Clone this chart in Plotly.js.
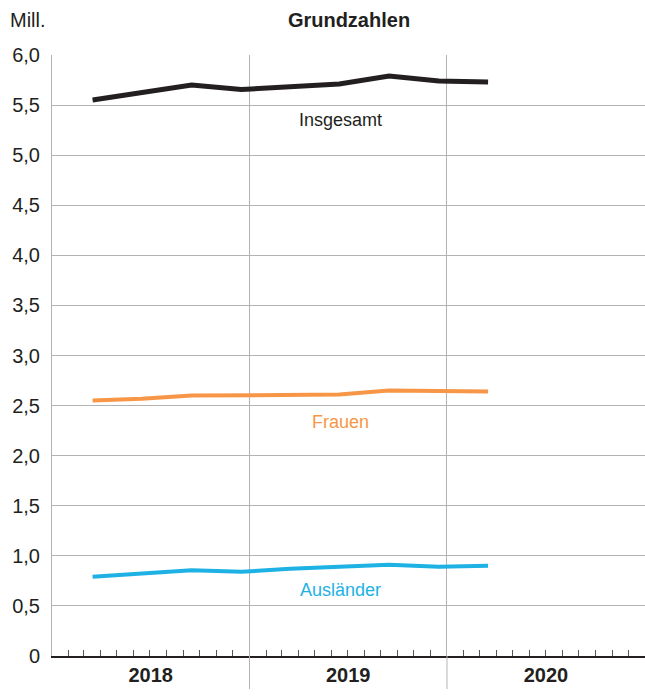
<!DOCTYPE html>
<html>
<head>
<meta charset="utf-8">
<script src="https://cdn.plot.ly/plotly-3.0.1.min.js"></script>
<style>html,body{margin:0;padding:0;background:#fff;}#chart{width:645px;height:696px;}</style>
</head>
<body>
<div id="chart"></div>
<script>
// Quarterly observation dates (middle of last month of quarter)
const dates = ['2018-03-17','2018-06-16','2018-09-16','2018-12-17','2019-03-17','2019-06-16','2019-09-16','2019-12-17','2020-03-17'];
const insgesamt = [5.55, 5.62, 5.70, 5.655, 5.68, 5.71, 5.79, 5.74, 5.73];
const frauen = [2.55, 2.567, 2.60, 2.60, 2.605, 2.61, 2.65, 2.64, 2.64];
const auslaender = [0.79, 0.82, 0.855, 0.84, 0.87, 0.89, 0.91, 0.89, 0.90];

const seriesNames = ['Insgesamt', 'Frauen', 'Ausländer'];
const seriesColors = ['#231f20', '#f79646', '#1db1e4'];
const labelY = [5.35, 2.34, 0.66];
const labelX = '2019-06-18';

const yTickVals = [0, 0.5, 1, 1.5, 2, 2.5, 3, 3.5, 4, 4.5, 5, 5.5, 6];
const yTickText = ['0', '0,5', '1,0', '1,5', '2,0', '2,5', '3,0', '3,5', '4,0', '4,5', '5,0', '5,5', '6,0'];
const yearBounds = ['2019-01-01', '2020-01-01'];

const FONT = '"Liberation Sans", Arial, Helvetica, sans-serif';
const values = [insgesamt, frauen, auslaender];
const widths = [5, 4, 4];

const traces = values.map((v, i) => ({
  x: dates, y: v, type: 'scatter', mode: 'lines', name: seriesNames[i],
  line: {color: seriesColors[i], width: widths[i]}, hoverinfo: 'skip'
}));

const annotations = seriesNames.map((n, i) => ({
  x: labelX, y: labelY[i], xref: 'x', yref: 'y', text: n, showarrow: false,
  font: {family: FONT, size: 18, color: seriesColors[i]}, xanchor: 'center', yanchor: 'middle'
}));
annotations.push({
  x: -44/593, y: 1 + (55-19.5)/601, xref: 'paper', yref: 'paper', text: 'Mill.', showarrow: false,
  xanchor: 'left', yanchor: 'middle', font: {family: FONT, size: 20, color: '#231f20'}
});

const shapes = yearBounds.map(d => ({
  type: 'line', xref: 'x', yref: 'paper', x0: d, x1: d, y0: -33/601, y1: 0,
  line: {color: '#b3b3b3', width: 1}
}));

const layout = {
  width: 645, height: 696,
  margin: {l: 52, r: 0, t: 55, b: 40},
  paper_bgcolor: '#fff', plot_bgcolor: '#fff',
  showlegend: false,
  font: {family: FONT, color: '#231f20'},
  title: {text: '<b>Grundzahlen</b>', xref: 'container', yref: 'container', x: 349/645, y: 1 - 19.5/696,
    xanchor: 'center', yanchor: 'middle', font: {family: FONT, size: 20, color: '#231f20'}},
  xaxis: {
    type: 'date', range: ['2018-01-01', '2021-01-01'], tick0: '2018-01-01', dtick: 'M12',
    ticklabelmode: 'period', tickformat: '%Y', ticks: '',
    showgrid: true, gridcolor: '#b3b3b3', gridwidth: 1,
    showline: true, linecolor: '#231f20', linewidth: 1.6,
    tickfont: {family: FONT, size: 20, color: '#231f20', weight: 'bold'},
    minor: {dtick: 'M1', tick0: '2018-01-01', ticks: 'inside', ticklen: 6, tickcolor: '#555', tickwidth: 1, showgrid: false},
    zeroline: false, fixedrange: true
  },
  yaxis: {
    range: [0, 6], tickvals: yTickVals, ticktext: yTickText, ticks: '',
    showgrid: true, gridcolor: '#b3b3b3', gridwidth: 1, zeroline: false,
    showline: true, linecolor: '#b3b3b3', linewidth: 1,
    ticklabelstandoff: 7,
    tickfont: {family: FONT, size: 20, color: '#231f20'}, fixedrange: true
  },
  annotations: annotations,
  shapes: shapes
};

Plotly.newPlot('chart', traces, layout, {staticPlot: true, displayModeBar: false});
</script>
</body>
</html>
